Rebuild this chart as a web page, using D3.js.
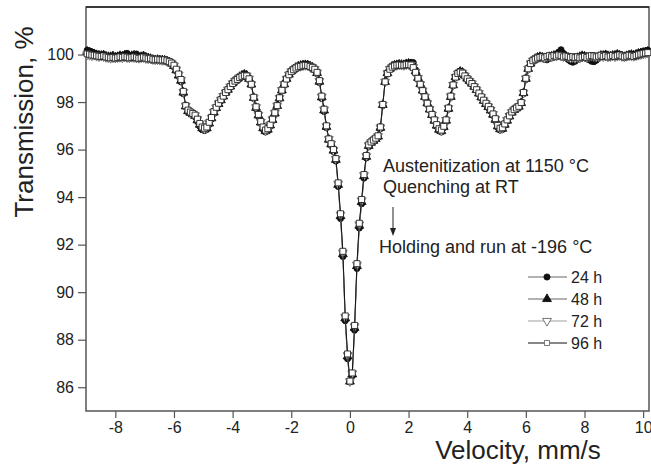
<!DOCTYPE html>
<html lang="en">
<head>
<meta charset="utf-8">
<title>Transmission vs velocity</title>
<script src="https://cdnjs.cloudflare.com/ajax/libs/d3/7.8.5/d3.min.js"></script>
<style>
  body { margin: 0; background: #fff; }
  text { font-family: Arial, "Liberation Sans", sans-serif; fill: #222; }
</style>
</head>
<body>
<div id="canvas"></div>
<script>
// channel -> velocity calibration of the spectrometer (mm/s)
const channelCal = { first: -8.96, step: 0.08 }

// transmission, %, one value per channel
const t24 = [
 100.18,100.15,100.10,100.06,100.02,99.98,99.96,99.99,99.93,99.90,
 99.88,99.92,99.90,99.93,99.96,99.94,100.00,100.05,99.95,99.92,
 99.98,100.02,99.90,99.88,99.92,99.86,99.83,99.80,99.76,99.74,
 99.76,99.74,99.75,99.72,99.70,99.66,99.60,99.48,99.30,99.08,
 98.85,98.35,97.80,97.58,97.52,97.46,97.38,97.18,96.98,96.84,
 96.80,96.86,97.06,97.28,97.52,97.72,97.90,98.05,98.22,98.38,
 98.50,98.65,98.80,98.92,99.00,99.08,99.14,99.18,99.14,99.00,
 98.72,98.15,97.72,97.40,97.10,96.86,96.74,96.80,96.98,97.22,
 97.50,97.82,98.15,98.48,98.74,98.98,99.18,99.32,99.40,99.46,
 99.52,99.55,99.57,99.58,99.56,99.52,99.46,99.36,99.20,98.82,
 98.15,97.60,96.92,96.40,96.18,95.92,95.52,94.45,93.10,91.50,
 88.80,87.20,86.22,86.48,88.40,91.00,92.70,93.72,94.80,95.65,
 96.12,96.26,96.34,96.42,96.52,96.88,97.85,98.85,99.25,99.42,
 99.52,99.56,99.58,99.60,99.58,99.58,99.62,99.64,99.66,99.66,
 99.35,99.05,98.78,98.50,98.22,97.94,97.68,97.44,97.20,96.98,
 96.80,96.74,96.92,97.20,97.70,98.20,98.70,99.05,99.22,99.30,
 99.26,99.14,99.00,98.90,98.78,98.64,98.50,98.35,98.18,98.04,
 97.90,97.76,97.62,97.44,97.22,96.94,96.82,96.85,97.02,97.20,
 97.38,97.55,97.66,97.72,97.80,97.95,98.35,98.95,99.38,99.62,
 99.76,99.84,99.90,99.92,99.86,99.80,99.78,99.84,99.88,99.92,
 99.98,100.10,100.20,100.05,99.90,99.80,99.72,99.68,99.72,99.80,
 99.88,99.95,99.90,99.84,99.78,99.72,99.70,99.76,99.85,99.92,
 99.96,100.00,99.95,99.90,99.94,99.98,100.02,99.96,99.92,99.88,
 99.92,99.96,100.00,99.97,100.02,100.06,100.10,100.12,100.15,100.18
]
const t48 = [
 100.12,100.08,100.05,100.02,99.98,99.96,99.95,99.97,99.92,99.90,
 99.90,99.93,99.88,99.90,99.94,99.92,99.96,99.93,99.90,99.94,
 99.96,99.92,99.88,99.90,99.93,99.88,99.85,99.82,99.78,99.76,
 99.78,99.76,99.76,99.75,99.72,99.68,99.62,99.52,99.34,99.12,
 98.90,98.40,97.82,97.62,97.55,97.49,97.42,97.24,97.05,96.90,
 96.85,96.90,97.10,97.32,97.56,97.75,97.92,98.08,98.24,98.40,
 98.52,98.66,98.80,98.90,98.98,99.06,99.12,99.16,99.12,98.98,
 98.74,98.18,97.76,97.44,97.14,96.90,96.78,96.84,97.02,97.25,
 97.52,97.84,98.16,98.49,98.75,98.98,99.16,99.30,99.38,99.45,
 99.50,99.53,99.55,99.56,99.55,99.51,99.46,99.37,99.22,98.86,
 98.20,97.65,96.96,96.42,96.22,95.96,95.57,94.52,93.20,91.60,
 88.90,87.30,86.24,86.54,88.50,91.10,92.80,93.80,94.88,95.70,
 96.16,96.29,96.37,96.45,96.55,96.92,97.88,98.85,99.22,99.40,
 99.50,99.54,99.56,99.58,99.57,99.56,99.60,99.62,99.60,99.50,
 99.30,99.02,98.76,98.49,98.22,97.95,97.69,97.46,97.22,97.01,
 96.84,96.78,96.95,97.22,97.72,98.22,98.71,99.05,99.21,99.28,
 99.24,99.12,98.99,98.89,98.78,98.65,98.51,98.36,98.20,98.06,
 97.92,97.79,97.65,97.47,97.26,96.98,96.86,96.88,97.05,97.22,
 97.40,97.56,97.67,97.74,97.81,97.96,98.38,98.98,99.40,99.62,
 99.75,99.82,99.87,99.90,99.88,99.84,99.86,99.90,99.92,99.95,
 99.96,100.04,100.10,99.98,99.92,99.86,99.80,99.78,99.82,99.86,
 99.90,99.94,99.92,99.88,99.84,99.80,99.80,99.84,99.90,99.95,
 99.95,99.98,99.94,99.92,99.95,99.96,100.00,99.96,99.93,99.90,
 99.94,99.97,99.99,99.96,100.00,100.04,100.06,100.08,100.10,100.12
]
const t72 = [
 100.00,99.98,99.96,99.98,99.94,99.92,99.94,99.92,99.89,99.87,
 99.85,99.87,99.86,99.88,99.89,99.87,99.90,99.88,99.87,99.89,
 99.88,99.86,99.85,99.87,99.88,99.84,99.83,99.83,99.80,99.79,
 99.79,99.78,99.76,99.77,99.73,99.69,99.63,99.53,99.36,99.15,
 98.92,98.42,97.84,97.64,97.56,97.50,97.44,97.27,97.08,96.93,
 96.88,96.93,97.13,97.34,97.58,97.77,97.94,98.09,98.25,98.40,
 98.52,98.65,98.78,98.89,98.96,99.04,99.10,99.14,99.11,98.98,
 98.75,98.19,97.78,97.46,97.16,96.93,96.80,96.86,97.04,97.27,
 97.54,97.85,98.17,98.50,98.75,98.97,99.15,99.29,99.37,99.44,
 99.49,99.51,99.54,99.55,99.54,99.50,99.46,99.38,99.24,98.88,
 98.22,97.68,96.98,96.44,96.24,95.98,95.60,94.56,93.26,91.66,
 88.95,87.35,86.25,86.58,88.56,91.15,92.85,93.86,94.92,95.72,
 96.18,96.30,96.38,96.46,96.56,96.93,97.89,98.85,99.21,99.39,
 99.48,99.53,99.55,99.57,99.56,99.55,99.58,99.59,99.57,99.47,
 99.27,99.01,98.75,98.48,98.22,97.95,97.70,97.47,97.24,97.03,
 96.86,96.80,96.97,97.24,97.74,98.24,98.72,99.05,99.20,99.27,
 99.23,99.11,98.98,98.88,98.78,98.65,98.52,98.37,98.21,98.07,
 97.94,97.81,97.67,97.49,97.28,97.00,96.88,96.90,97.07,97.24,
 97.41,97.57,97.67,97.75,97.82,97.97,98.39,98.99,99.40,99.62,
 99.74,99.81,99.86,99.89,99.89,99.86,99.90,99.93,99.90,99.94,
 99.94,99.98,99.96,99.92,99.93,99.90,99.86,99.88,99.85,99.88,
 99.86,99.90,99.91,99.88,99.92,99.94,99.92,99.90,99.92,99.95,
 99.92,99.94,99.91,99.92,99.95,99.92,99.94,99.96,99.93,99.91,
 99.93,99.96,99.95,99.93,99.96,99.98,100.01,100.03,100.05,100.07
]
const t96 = [
 100.03,100.01,99.98,99.97,99.95,99.93,99.92,99.94,99.90,99.88,
 99.86,99.88,99.85,99.87,99.90,99.88,99.91,99.89,99.86,99.88,
 99.90,99.87,99.84,99.86,99.89,99.85,99.82,99.84,99.80,99.78,
 99.80,99.78,99.77,99.78,99.74,99.70,99.64,99.55,99.38,99.18,
 98.95,98.45,97.85,97.66,97.58,97.52,97.45,97.28,97.10,96.95,
 96.90,96.95,97.15,97.35,97.60,97.78,97.95,98.10,98.25,98.40,
 98.52,98.65,98.78,98.88,98.95,99.03,99.08,99.12,99.10,98.98,
 98.75,98.20,97.80,97.48,97.18,96.95,96.82,96.88,97.05,97.28,
 97.55,97.85,98.18,98.50,98.75,98.97,99.15,99.28,99.36,99.43,
 99.48,99.50,99.53,99.55,99.54,99.50,99.46,99.38,99.25,98.90,
 98.25,97.70,97.00,96.45,96.25,96.00,95.62,94.60,93.30,91.72,
 89.00,87.40,86.26,86.60,88.60,91.20,92.90,93.90,94.95,95.75,
 96.20,96.32,96.40,96.48,96.58,96.95,97.90,98.85,99.20,99.38,
 99.47,99.52,99.55,99.56,99.55,99.55,99.57,99.58,99.56,99.45,
 99.25,99.00,98.75,98.48,98.22,97.95,97.70,97.48,97.25,97.05,
 96.88,96.82,96.98,97.25,97.75,98.25,98.72,99.05,99.20,99.26,
 99.22,99.10,98.98,98.88,98.78,98.65,98.52,98.38,98.22,98.08,
 97.95,97.82,97.68,97.50,97.30,97.02,96.90,96.92,97.08,97.25,
 97.42,97.58,97.68,97.75,97.82,97.98,98.40,99.00,99.40,99.62,
 99.74,99.80,99.85,99.88,99.90,99.86,99.92,99.95,99.90,99.96,
 99.93,99.98,99.95,99.90,99.94,99.92,99.88,99.91,99.87,99.90,
 99.86,99.89,99.92,99.88,99.93,99.96,99.94,99.90,99.93,99.97,
 99.92,99.95,99.90,99.93,99.96,99.92,99.95,99.98,99.94,99.90,
 99.93,99.97,99.95,99.92,99.96,99.99,100.02,100.05,100.06,100.08
]

const seriesNames = ["24 h", "48 h", "72 h", "96 h"]
const xTicks = [-8, -6, -4, -2, 0, 2, 4, 6, 8, 10]
const yTicks = [86, 88, 90, 92, 94, 96, 98, 100]
const annotation = ["Austenitization at 1150 °C", "Quenching at RT", "Holding and run at -196 °C"]

const width = 651
const height = 468
const plot = { left: 86, top: 7, right: 649, bottom: 411 }

const svg = d3.select("#canvas").append("svg")
  .attr("width", width)
  .attr("height", height)

const chan = d3.scaleLinear().domain([0, 1]).range([channelCal.first, channelCal.first + channelCal.step])
const x = d3.scaleLinear().domain([-9, 10.2]).range([plot.left, plot.right])
const y = d3.scaleLinear().domain([85, 102]).range([plot.bottom, plot.top])

const styles = [
  { values: t24, line: "#666", sym: d3.symbolCircle, size: 30, fill: "#111", stroke: "#111", rot: 0 },
  { values: t48, line: "#666", sym: d3.symbolTriangle, size: 34, fill: "#111", stroke: "#111", rot: 0 },
  { values: t72, line: "#a0a0a0", sym: d3.symbolTriangle, size: 34, fill: "#fff", stroke: "#666", rot: 180 },
  { values: t96, line: "#111", sym: d3.symbolSquare, size: 36, fill: "#fff", stroke: "#222", rot: 0 }
]

// axes (plain hyphen for negative numbers, as in the original)
const plain = d => String(d)
const xAxis = svg.append("g").attr("transform", `translate(0,${plot.bottom})`)
xAxis.call(d3.axisBottom(x).tickValues(d3.range(-9, 11, 1)).tickSize(4).tickFormat(""))
xAxis.call(d3.axisBottom(x).tickValues(xTicks).tickSize(7).tickPadding(4).tickFormat(plain))
const yAxis = svg.append("g").attr("transform", `translate(${plot.left},0)`)
yAxis.call(d3.axisLeft(y).tickValues(d3.range(85, 102, 1)).tickSize(4).tickFormat(""))
yAxis.call(d3.axisLeft(y).tickValues(yTicks).tickSize(8).tickPadding(4).tickFormat(plain))
svg.selectAll(".domain").remove()
svg.selectAll(".tick line").attr("stroke", "#555").attr("stroke-width", 1.2)
svg.selectAll(".tick text").style("font-size", "16px").attr("fill", "#222")

svg.append("rect")
  .attr("x", plot.left).attr("y", plot.top)
  .attr("width", plot.right - plot.left).attr("height", plot.bottom - plot.top)
  .attr("fill", "none").attr("stroke", "#555").attr("stroke-width", 1.5)
svg.append("line")
  .attr("x1", plot.left).attr("x2", plot.right).attr("y1", plot.top).attr("y2", plot.top)
  .attr("stroke", "#222").attr("stroke-width", 1.5)

// axis titles
svg.append("text")
  .attr("transform", "translate(33,122) rotate(-90)")
  .attr("text-anchor", "middle")
  .style("font-size", "26px")
  .text("Transmission, %")
svg.append("text")
  .attr("x", 518).attr("y", 459)
  .attr("text-anchor", "middle")
  .style("font-size", "26px")
  .text("Velocity, mm/s")

// series
const line = d3.line().x((d, i) => x(chan(i))).y(d => y(d))
const symbolPath = s => d3.symbol().type(s.sym).size(s.size)()

styles.forEach(s => {
  const g = svg.append("g")
  g.append("path")
    .attr("d", line(s.values))
    .attr("fill", "none")
    .attr("stroke", s.line)
    .attr("stroke-width", 1)
  g.selectAll("path.pt")
    .data(s.values)
    .join("path")
      .attr("class", "pt")
      .attr("d", symbolPath(s))
      .attr("transform", (d, i) => `translate(${x(chan(i))},${y(d)}) rotate(${s.rot})`)
      .attr("fill", s.fill)
      .attr("stroke", s.stroke)
      .attr("stroke-width", 0.9)
})

// annotation
svg.append("text").attr("x", 383).attr("y", 172).style("font-size", "18px").text(annotation[0])
svg.append("text").attr("x", 383).attr("y", 193).style("font-size", "18px").text(annotation[1])
svg.append("line")
  .attr("x1", 393).attr("x2", 393).attr("y1", 207).attr("y2", 229)
  .attr("stroke", "#222").attr("stroke-width", 1)
svg.append("path")
  .attr("d", "M390,228 L396,228 L393,236 Z")
  .attr("fill", "#222")
svg.append("text").attr("x", 379).attr("y", 253).style("font-size", "18px").text(annotation[2])

// legend
const legend = svg.append("g")
seriesNames.forEach((name, k) => {
  const s = styles[k]
  const ly = 277 + k * 22
  legend.append("line")
    .attr("x1", 528).attr("x2", 567).attr("y1", ly).attr("y2", ly)
    .attr("stroke", s.line).attr("stroke-width", 1.2)
  legend.append("path")
    .attr("d", d3.symbol().type(s.sym).size(k === 3 ? 26 : s.size)())
    .attr("transform", `translate(547,${ly}) rotate(${s.rot})`)
    .attr("fill", s.fill)
    .attr("stroke", k === 3 ? "#666" : s.stroke)
    .attr("stroke-width", 0.9)
  legend.append("text")
    .attr("x", 571).attr("y", ly + 6)
    .style("font-size", "16px")
    .text(name)
})
</script>
</body>
</html>
